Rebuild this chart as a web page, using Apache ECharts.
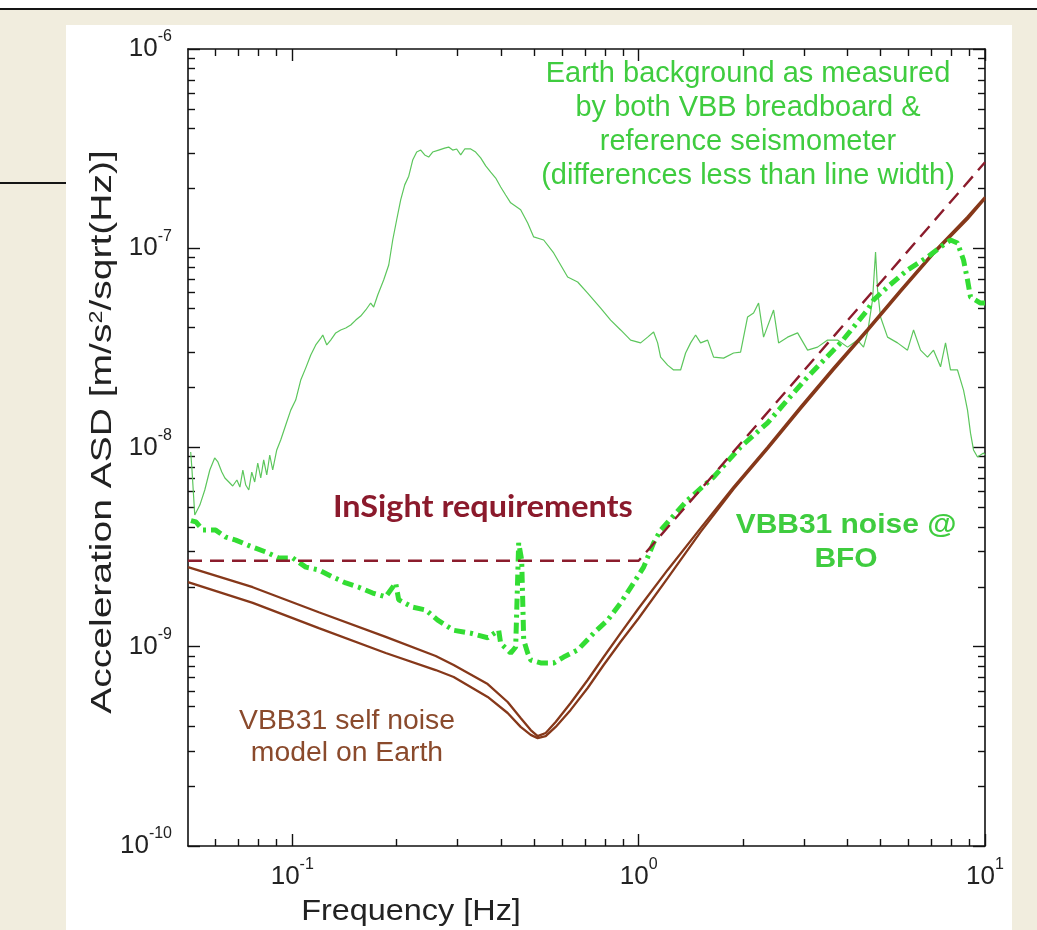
<!DOCTYPE html>
<html><head><meta charset="utf-8">
<script src="https://cdn.jsdelivr.net/npm/echarts@6/dist/echarts.min.js"></script>
<style>html,body{margin:0;padding:0;background:#fff}#c{width:1037px;height:930px}</style>
</head><body><div id="c"></div>
<script>
// ---- data: [frequency Hz, acceleration ASD m/s^2/sqrt(Hz)] ----
const earthBackground = [
[0.0509,9.49e-9],[0.0513,7.89e-9],[0.0523,4.58e-9],[0.0541,5.14e-9],[0.0559,6.12e-9],[0.0578,7.71e-9],
[0.0597,8.86e-9],[0.0610,8.46e-9],[0.0626,7.53e-9],[0.0639,7.03e-9],[0.0656,6.71e-9],[0.0673,6.41e-9],
[0.0692,6.87e-9],[0.0706,6.33e-9],[0.0720,7.71e-9],[0.0734,6.48e-9],[0.0749,6.12e-9],[0.0764,7.53e-9],
[0.0779,6.71e-9],[0.0795,8.36e-9],[0.0811,7.03e-9],[0.0827,8.66e-9],[0.0844,7.28e-9],[0.0861,9.17e-9],
[0.0878,7.71e-9],[0.0902,9.72e-9],[0.0926,1.09e-8],[0.0958,1.30e-8],[0.0990,1.54e-8],[0.1023,1.73e-8],
[0.1058,2.18e-8],[0.1094,2.51e-8],[0.1131,2.91e-8],[0.1169,3.27e-8],[0.1209,3.54e-8],[0.1225,3.67e-8],
[0.1258,3.27e-8],[0.1291,3.46e-8],[0.1335,3.76e-8],[0.1380,3.89e-8],[0.1427,3.98e-8],[0.1475,4.12e-8],
[0.1525,4.36e-8],[0.1576,4.57e-8],[0.1630,4.90e-8],[0.1684,5.31e-8],[0.1718,5.07e-8],[0.1765,5.83e-8],
[0.1836,6.93e-8],[0.1899,8.24e-8],[0.1950,1.10e-7],[0.2002,1.39e-7],[0.2056,1.75e-7],[0.2112,2.08e-7],
[0.2169,2.30e-7],[0.2227,2.77e-7],[0.2287,3.04e-7],[0.2349,3.11e-7],[0.2412,2.94e-7],[0.2476,2.87e-7],
[0.2543,3.04e-7],[0.2646,3.11e-7],[0.2754,3.18e-7],[0.2828,3.22e-7],[0.2905,3.11e-7],[0.2983,3.15e-7],
[0.3064,2.94e-7],[0.3147,3.15e-7],[0.3275,3.15e-7],[0.3384,3.04e-7],[0.3499,2.84e-7],[0.3618,2.59e-7],
[0.3740,2.41e-7],[0.3866,2.25e-7],[0.3997,2.03e-7],[0.4131,1.85e-7],[0.4271,1.69e-7],[0.4564,1.56e-7],
[0.4783,1.34e-7],[0.4977,1.14e-7],[0.5319,1.10e-7],[0.5684,9.47e-8],[0.6238,7.17e-8],[0.6668,6.77e-8],
[0.7126,5.96e-8],[0.7769,5.01e-8],[0.8301,4.36e-8],[0.8872,3.89e-8],[0.9482,3.46e-8],[1.0134,3.35e-8],
[1.0617,3.58e-8],[1.1047,3.80e-8],[1.1346,3.35e-8],[1.1574,2.84e-8],[1.2127,2.59e-8],[1.2619,2.45e-8],
[1.3219,2.45e-8],[1.3665,2.98e-8],[1.4128,3.35e-8],[1.4604,3.67e-8],[1.5100,3.35e-8],[1.5818,3.46e-8],
[1.6461,2.84e-8],[1.7594,2.81e-8],[1.8799,2.98e-8],[1.9694,3.01e-8],[2.0634,4.52e-8],[2.1471,4.73e-8],
[2.2196,5.31e-8],[2.2948,3.58e-8],[2.4526,4.90e-8],[2.5355,3.35e-8],[2.6915,3.58e-8],[2.8770,3.76e-8],
[3.0750,3.08e-8],[3.2855,3.19e-8],[3.5114,3.46e-8],[3.7525,3.46e-8],[4.0105,3.19e-8],[4.2855,3.46e-8],
[4.4597,3.19e-8],[4.5797,3.76e-8],[4.7344,5.50e-8],[4.8306,9.58e-8],[4.8954,6.17e-8],[4.9936,4.52e-8],
[5.2310,3.58e-8],[5.5911,3.35e-8],[5.9743,3.08e-8],[6.2188,3.89e-8],[6.5145,3.08e-8],[6.8250,2.84e-8],
[7.1029,3.08e-8],[7.4409,2.54e-8],[7.6918,3.35e-8],[7.9506,2.45e-8],[8.3290,2.45e-8],[8.6696,1.94e-8],
[8.9028,1.54e-8],[9.0826,1.18e-8],[9.2645,9.72e-9],[9.5147,8.96e-9],[9.9020,9.38e-9],[10.0,9.17e-9]
];
const vbbNoiseBFO = [
[0.0510,4.30e-9],[0.0527,4.23e-9],[0.0552,3.85e-9],[0.0601,3.85e-9],[0.0643,3.55e-9],[0.0687,3.43e-9],
[0.0769,3.16e-9],[0.0838,2.99e-9],[0.0914,2.79e-9],[0.1003,2.79e-9],[0.1094,2.51e-9],[0.1193,2.43e-9],
[0.1309,2.24e-9],[0.1427,2.09e-9],[0.1555,1.99e-9],[0.1707,1.86e-9],[0.1861,1.78e-9],[0.1989,2.09e-9],
[0.2029,1.72e-9],[0.2227,1.58e-9],[0.2428,1.53e-9],[0.2630,1.36e-9],[0.2924,1.21e-9],[0.3275,1.17e-9],
[0.3666,1.11e-9],[0.3944,1.21e-9],[0.3997,1.04e-9],[0.4271,9.30e-10],[0.4416,9.97e-10],[0.4475,9.97e-10],
[0.4505,3.32e-9],[0.4596,2.72e-9],[0.4658,1.08e-9],[0.4783,9.30e-10],[0.4880,8.58e-10],[0.5213,8.29e-10],
[0.5684,8.29e-10],[0.6075,8.88e-10],[0.6668,9.63e-10],[0.7417,1.17e-9],[0.8139,1.36e-9],[0.8872,1.66e-9],
[0.9673,2.09e-9],[1.0338,2.51e-9],[1.1047,3.32e-9],[1.1574,3.85e-9],[1.3848,5.45e-9],[1.6461,7.11e-9],
[1.9694,1.006e-8],[2.3565,1.33e-8],[2.8018,1.88e-8],[3.0750,2.26e-8],[3.8282,3.35e-8],[4.5797,4.90e-8],
[4.7662,5.50e-8],[5.2310,6.39e-8],[5.9743,7.78e-8],[6.8250,9.04e-8],[7.4409,1.015e-7],[7.9506,1.10e-7],
[8.3290,1.062e-7],[8.6696,8.73e-8],[8.9028,6.93e-8],[9.0826,5.69e-8],[9.7051,5.31e-8],[10.0,5.31e-8]
];
const insightRequirement = [[0.05,2.7e-9],[1.0,2.7e-9],[10.0,2.7e-7]];
const selfNoiseUpper = [
[0.05,2.51e-9],[0.0769,1.99e-9],[0.1193,1.49e-9],[0.1861,1.12e-9],[0.2595,8.99e-10],[0.2924,8.10e-10],
[0.3666,6.50e-10],[0.4186,5.28e-10],[0.4564,4.39e-10],[0.4880,3.82e-10],[0.5111,3.56e-10],[0.5391,3.69e-10],
[0.5760,4.19e-10],[0.6364,5.22e-10],[0.7126,6.81e-10],[0.7925,8.88e-10],[0.8872,1.17e-9],[1.0,1.56e-9],
[1.2127,2.43e-9],[1.5100,3.94e-9],[1.8799,6.33e-9],[2.3565,1.006e-8],[2.9346,1.60e-8],[3.6534,2.51e-8],
[4.5797,3.93e-8],[5.7036,6.17e-8],[7.1029,9.58e-8],[8.9028,1.44e-7],[10.0,1.81e-7]
];
const selfNoiseLower = [
[0.05,2.11e-9],[0.0769,1.66e-9],[0.1193,1.24e-9],[0.1861,9.30e-10],[0.2595,7.64e-10],[0.2924,7.05e-10],
[0.3666,5.60e-10],[0.4186,4.65e-10],[0.4564,3.96e-10],[0.4880,3.61e-10],[0.5111,3.48e-10],[0.5391,3.56e-10],
[0.5760,3.96e-10],[0.6364,4.82e-10],[0.7126,6.21e-10],[0.7925,8.10e-10],[0.8872,1.06e-9],[1.0,1.39e-9],
[1.2127,2.21e-9],[1.5100,3.77e-9],[1.8799,6.19e-9],[2.3565,9.83e-9],[2.9346,1.56e-8],[3.6534,2.45e-8],
[4.5797,3.84e-8],[5.7036,6.03e-8],[7.1029,9.36e-8],[8.9028,1.40e-7],[10.0,1.77e-7]
];
// ---- axis ticks ----
const xRange = [0.05, 10];
const yRange = [1e-10, 1e-6];
const xMajorTicks = [0.1, 1, 10];
const yMajorTicks = [1e-10, 1e-9, 1e-8, 1e-7, 1e-6];
const minorMultipliers = [2, 3, 4, 5, 6, 7, 8, 9];
function minorTicks(decades, range) {
  const out = [];
  decades.forEach(d => minorMultipliers.forEach(m => {
    const v = +(m * d).toPrecision(3);
    if (v > range[0] * 1.0001 && v < range[1] * 0.9999) out.push(v);
  }));
  return out;
}
const xMinorTicks = minorTicks([0.01, 0.1, 1], xRange);
const yMinorTicks = minorTicks([1e-10, 1e-9, 1e-8, 1e-7], yRange);

const AX = '#111';
const FONT = '"Liberation Sans", Arial, sans-serif';
function powLabel(v) {
  const e = Math.round(Math.log10(v));
  return '{b|10}{s|' + e + '}';
}
const labelRich = {
  b: { fontSize: 26, fontFamily: FONT, color: '#222', lineHeight: 40 },
  s: { fontSize: 16, fontFamily: FONT, color: '#222', lineHeight: 14, verticalAlign: 'top' }
};
function mkX(position, ticks, len, showLine, showLabel) {
  return {
    type: 'log', logBase: 10, min: xRange[0], max: xRange[1], position: position,
    axisLine: { show: showLine, onZero: false, lineStyle: { color: AX, width: 1.6 } },
    axisTick: { show: true, inside: true, length: len, customValues: ticks, lineStyle: { color: AX, width: 1.4 } },
    axisLabel: showLabel ? { show: true, customValues: xMajorTicks, margin: 11, formatter: powLabel, rich: labelRich } : { show: false },
    splitLine: { show: false }, minorTick: { show: false }, minorSplitLine: { show: false }
  };
}
function mkY(position, ticks, len, showLine, showLabel) {
  return {
    type: 'log', logBase: 10, min: yRange[0], max: yRange[1], position: position,
    axisLine: { show: showLine, onZero: false, lineStyle: { color: AX, width: 1.6 } },
    axisTick: { show: true, inside: true, length: len, customValues: ticks, lineStyle: { color: AX, width: 1.4 } },
    axisLabel: showLabel ? { show: true, customValues: yMajorTicks, margin: 16, align: 'right', formatter: powLabel, rich: labelRich } : { show: false },
    splitLine: { show: false }, minorTick: { show: false }, minorSplitLine: { show: false }
  };
}

const chart = echarts.init(document.getElementById('c'), null, { renderer: 'canvas' });
chart.setOption({
  animation: false,
  backgroundColor: '#f1edde',
  grid: { left: 188, top: 49, width: 797, height: 797, containLabel: false, outerBoundsMode: 'none', show: false },
  xAxis: [
    mkX('bottom', xMajorTicks, 12, true, true),
    mkX('bottom', xMinorTicks, 7, false, false),
    mkX('top', xMajorTicks, 12, true, false),
    mkX('top', xMinorTicks, 7, false, false)
  ],
  yAxis: [
    mkY('left', yMajorTicks, 12, true, true),
    mkY('left', yMinorTicks, 7, false, false),
    mkY('right', yMajorTicks, 12, true, false),
    mkY('right', yMinorTicks, 7, false, false)
  ],
  graphic: [
    { type: 'rect', z: -100, silent: true, shape: { x: 0, y: 0, width: 1037, height: 9 }, style: { fill: '#ffffff' } },
    { type: 'rect', z: -99, silent: true, shape: { x: 0, y: 8, width: 1037, height: 2 }, style: { fill: '#151515' } },
    { type: 'rect', z: -99, silent: true, shape: { x: 0, y: 182, width: 66, height: 2 }, style: { fill: '#151515' } },
    { type: 'rect', z: -98, silent: true, shape: { x: 66, y: 25, width: 946, height: 905 }, style: { fill: '#ffffff' } },
    { type: 'text', z: 50, x: 748, y: 57, style: { text: 'Earth background as measured\nby both VBB breadboard &\nreference seismometer\n(differences less than line width)', fill: '#3fcc3f', font: '29px ' + FONT, textAlign: 'center', textVerticalAlign: 'top', lineHeight: 34 } },
    { type: 'text', z: 50, x: 333, y: 507, scaleX: 1.045, style: { text: 'InSight requirements', fill: '#8b1a2c', font: 'bold 31px Lato, "Open Sans", sans-serif', textAlign: 'left', textVerticalAlign: 'middle' } },
    { type: 'text', z: 50, x: 846, y: 508, scaleX: 1.07, style: { text: 'VBB31 noise @\nBFO', fill: '#3fcc3f', font: 'bold 28px ' + FONT, textAlign: 'center', textVerticalAlign: 'top', lineHeight: 34 } },
    { type: 'text', z: 50, x: 347, y: 706, scaleX: 1.05, style: { text: 'VBB31 self noise\nmodel on Earth', fill: '#8a4a2c', font: '27px ' + FONT, textAlign: 'center', textVerticalAlign: 'top', lineHeight: 32 } },
    { type: 'text', z: 50, x: 103, y: 432, rotation: Math.PI / 2, scaleX: 1.3, style: { text: 'Acceleration ASD [m/s{s|2}/sqrt(Hz)]', fill: '#222', font: '30px ' + FONT, textAlign: 'center', textVerticalAlign: 'middle', rich: { s: { fontSize: 18, fontFamily: FONT, verticalAlign: 'top', lineHeight: 14, fill: '#222' } } } },
    { type: 'text', z: 50, x: 411, y: 912, scaleX: 1.08, style: { text: 'Frequency [Hz]', fill: '#222', font: '30px ' + FONT, textAlign: 'center', textVerticalAlign: 'middle' } }
  ],
  series: [
    { name: 'Earth background', type: 'line', xAxisIndex: 0, yAxisIndex: 0, data: earthBackground, showSymbol: false, symbol: 'none', clip: true, z: 2,
      lineStyle: { color: '#5cc65c', width: 1.2 } },
    { name: 'VBB31 self noise A', type: 'line', xAxisIndex: 0, yAxisIndex: 0, data: selfNoiseUpper, showSymbol: false, symbol: 'none', clip: true, z: 3,
      lineStyle: { color: '#86381a', width: 2.3 } },
    { name: 'VBB31 self noise B', type: 'line', xAxisIndex: 0, yAxisIndex: 0, data: selfNoiseLower, showSymbol: false, symbol: 'none', clip: true, z: 3,
      lineStyle: { color: '#86381a', width: 2.3 } },
    { name: 'VBB31 noise @ BFO', type: 'line', xAxisIndex: 0, yAxisIndex: 0, data: vbbNoiseBFO, showSymbol: false, symbol: 'none', clip: true, z: 4,
      lineStyle: { color: '#33dd33', width: 5, type: [11, 5, 3, 5], cap: 'butt' } },
    { name: 'InSight requirements', type: 'line', xAxisIndex: 0, yAxisIndex: 0, data: insightRequirement, showSymbol: false, symbol: 'none', clip: true, z: 5,
      lineStyle: { color: '#8b1c2c', width: 2.4, type: [14, 8] } }
  ]
});
</script>
</body></html>
